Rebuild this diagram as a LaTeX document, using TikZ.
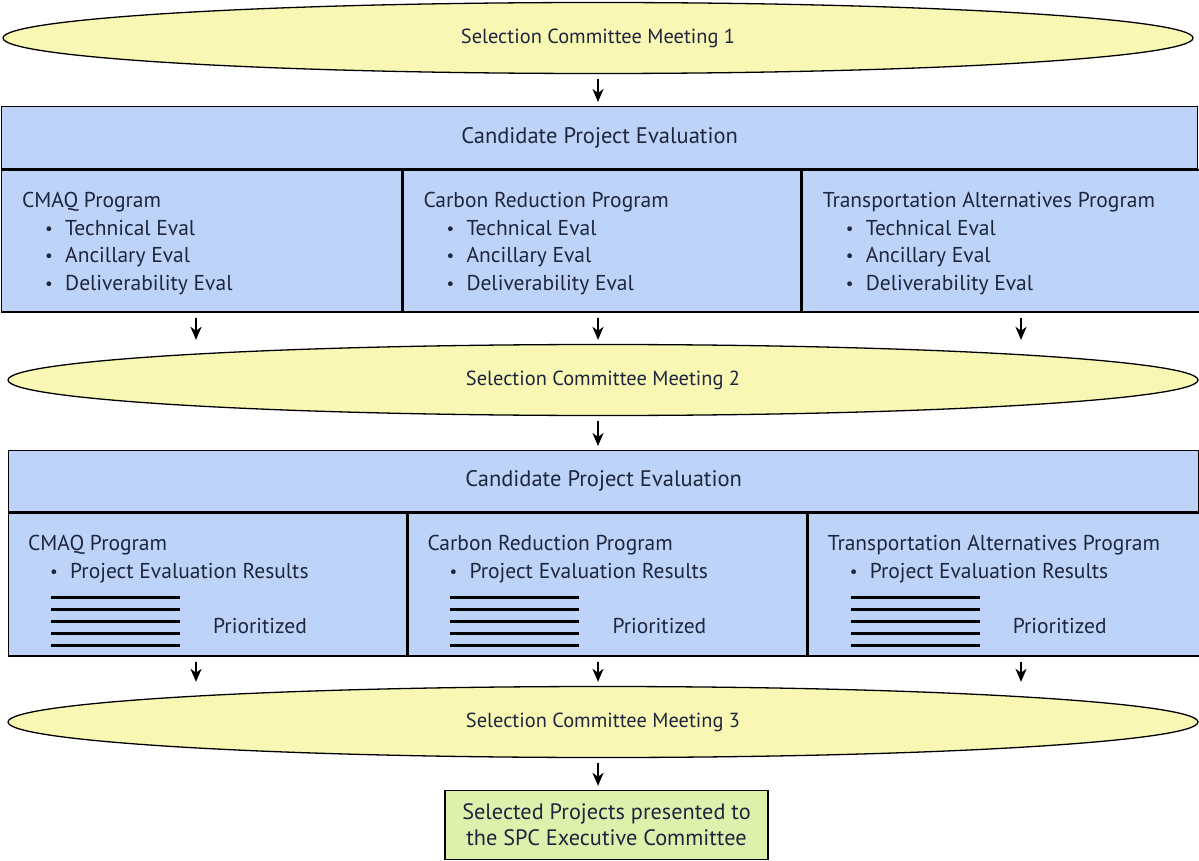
\documentclass[tikz,border=0pt]{standalone}
\usepackage{fontspec}
\setmainfont{PT Sans}
\usetikzlibrary{positioning, shapes.geometric, arrows.meta}

\definecolor{meetfill}{RGB}{249,247,180}
\definecolor{evalfill}{RGB}{189,211,247}
\definecolor{finalfill}{RGB}{222,240,172}
\definecolor{inktext}{RGB}{30,38,62}

\tikzset{
  meeting/.style={ellipse, draw, line width=1.3pt, fill=meetfill,
    minimum width=1190pt, minimum height=71pt, inner sep=0pt,
    font=\fontsize{20.4}{24}\selectfont},
  evalbox/.style={rectangle, draw, line width=1.3pt, fill=evalfill,
    inner sep=0pt, anchor=north west},
  evaltitle/.style={font=\fontsize{22.5}{26}\selectfont},
  finalbox/.style={rectangle, draw, line width=1.3pt, fill=finalfill,
    align=center, minimum width=323pt, minimum height=69pt, inner sep=0pt,
    font=\fontsize{22.3}{26}\selectfont},
  listtext/.style={anchor=base west, inner sep=0pt},
  flow/.style={draw=black, line width=2.2pt, shorten <=5pt, shorten >=4pt,
    -{Stealth[length=13pt,width=11pt,inset=4pt]}},
}

\newcommand{\evalitem}[1]{\makebox[20pt][l]{\raisebox{1pt}{\fontsize{17}{17}\selectfont\textbullet}}#1}

\begin{document}
\begin{tikzpicture}[x=1pt, y=-1pt, font=\fontsize{21.5}{26}\selectfont, text=inktext]
  \useasboundingbox (0,0) rectangle (1199,861);

  % meetings
  \node[meeting] (meetA) at (598,38) {Selection Committee Meeting 1};
  \node[meeting] (meetB) at (603,380) {Selection Committee Meeting 2};
  \node[meeting] (meetC) at (603,722) {Selection Committee Meeting 3};

  % first evaluation
  \node[evalbox, minimum width=1196pt, minimum height=62pt] (evalA) at (1,106) {};
  \node[evaltitle] (evalAtitle) at (evalA.center) {Candidate Project Evaluation};
  \node[evalbox, minimum width=400pt, minimum height=142pt] (cmaqA) at (evalA.south west) {};
  \node[evalbox, minimum width=398pt, minimum height=142pt] (carbonA) at (cmaqA.north east) {};
  \node[evalbox, minimum width=398pt, minimum height=142pt] (tapA) at (carbonA.north east) {};

  \foreach \p/\name in {cmaqA/CMAQ Program, carbonA/Carbon Reduction Program,
      tapA/Transportation Alternatives Program} {
    \node[listtext] (\p-name) at ([shift={(21,38)}]\p.north west) {\name};
    \node[listtext] (\p-tech) at ([shift={(44,66)}]\p.north west) {\evalitem{Technical Eval}};
    \node[listtext] (\p-anc) at ([shift={(44,93)}]\p.north west) {\evalitem{Ancillary Eval}};
    \node[listtext] (\p-del) at ([shift={(44,121)}]\p.north west) {\evalitem{Deliverability Eval}};
  }

  % second evaluation
  \node[evalbox, minimum width=1190pt, minimum height=61pt] (evalB) at (8,450) {};
  \node[evaltitle] (evalBtitle) at (evalB.center) {Candidate Project Evaluation};
  \node[evalbox, minimum width=398pt, minimum height=143pt] (cmaqB) at (evalB.south west) {};
  \node[evalbox, minimum width=399pt, minimum height=143pt] (carbonB) at (cmaqB.north east) {};
  \node[evalbox, minimum width=393pt, minimum height=143pt] (tapB) at (carbonB.north east) {};

  \foreach \p/\name in {cmaqB/CMAQ Program, carbonB/Carbon Reduction Program,
      tapB/Transportation Alternatives Program} {
    \node[listtext] (\p-name) at ([shift={(20,38)}]\p.north west) {\name};
    \node[listtext] (\p-res) at ([shift={(42,66)}]\p.north west) {\evalitem{Project Evaluation Results}};
    \node[listtext] (\p-prio) at ([shift={(205,121)}]\p.north west) {Prioritized};
    \foreach \k in {0,...,4}
      \draw[line width=2.6pt] ([shift={(43,85+12*\k)}]\p.north west) -- ++(129,0);
  }

  % selected projects
  \node[finalbox] (final) at (606.5,825) {Selected Projects presented to\\the SPC Executive Committee};

  % arrow columns
  \coordinate (colL) at (196,0);
  \coordinate (colM) at (598,0);
  \coordinate (colR) at (1021,0);

  \path[flow] (meetA.south -| colM) -- (colM |- evalA.north);
  \path[flow] (cmaqA.south -| colL) -- (colL |- meetB.north);
  \path[flow] (carbonA.south -| colM) -- (colM |- meetB.north);
  \path[flow] (tapA.south -| colR) -- (colR |- meetB.north);
  \path[flow] (meetB.south -| colM) -- (colM |- evalB.north);
  \path[flow] (cmaqB.south -| colL) -- (colL |- meetC.north);
  \path[flow] (carbonB.south -| colM) -- (colM |- meetC.north);
  \path[flow] (tapB.south -| colR) -- (colR |- meetC.north);
  \path[flow] (meetC.south -| colM) -- (colM |- final.north);
\end{tikzpicture}
\end{document}
